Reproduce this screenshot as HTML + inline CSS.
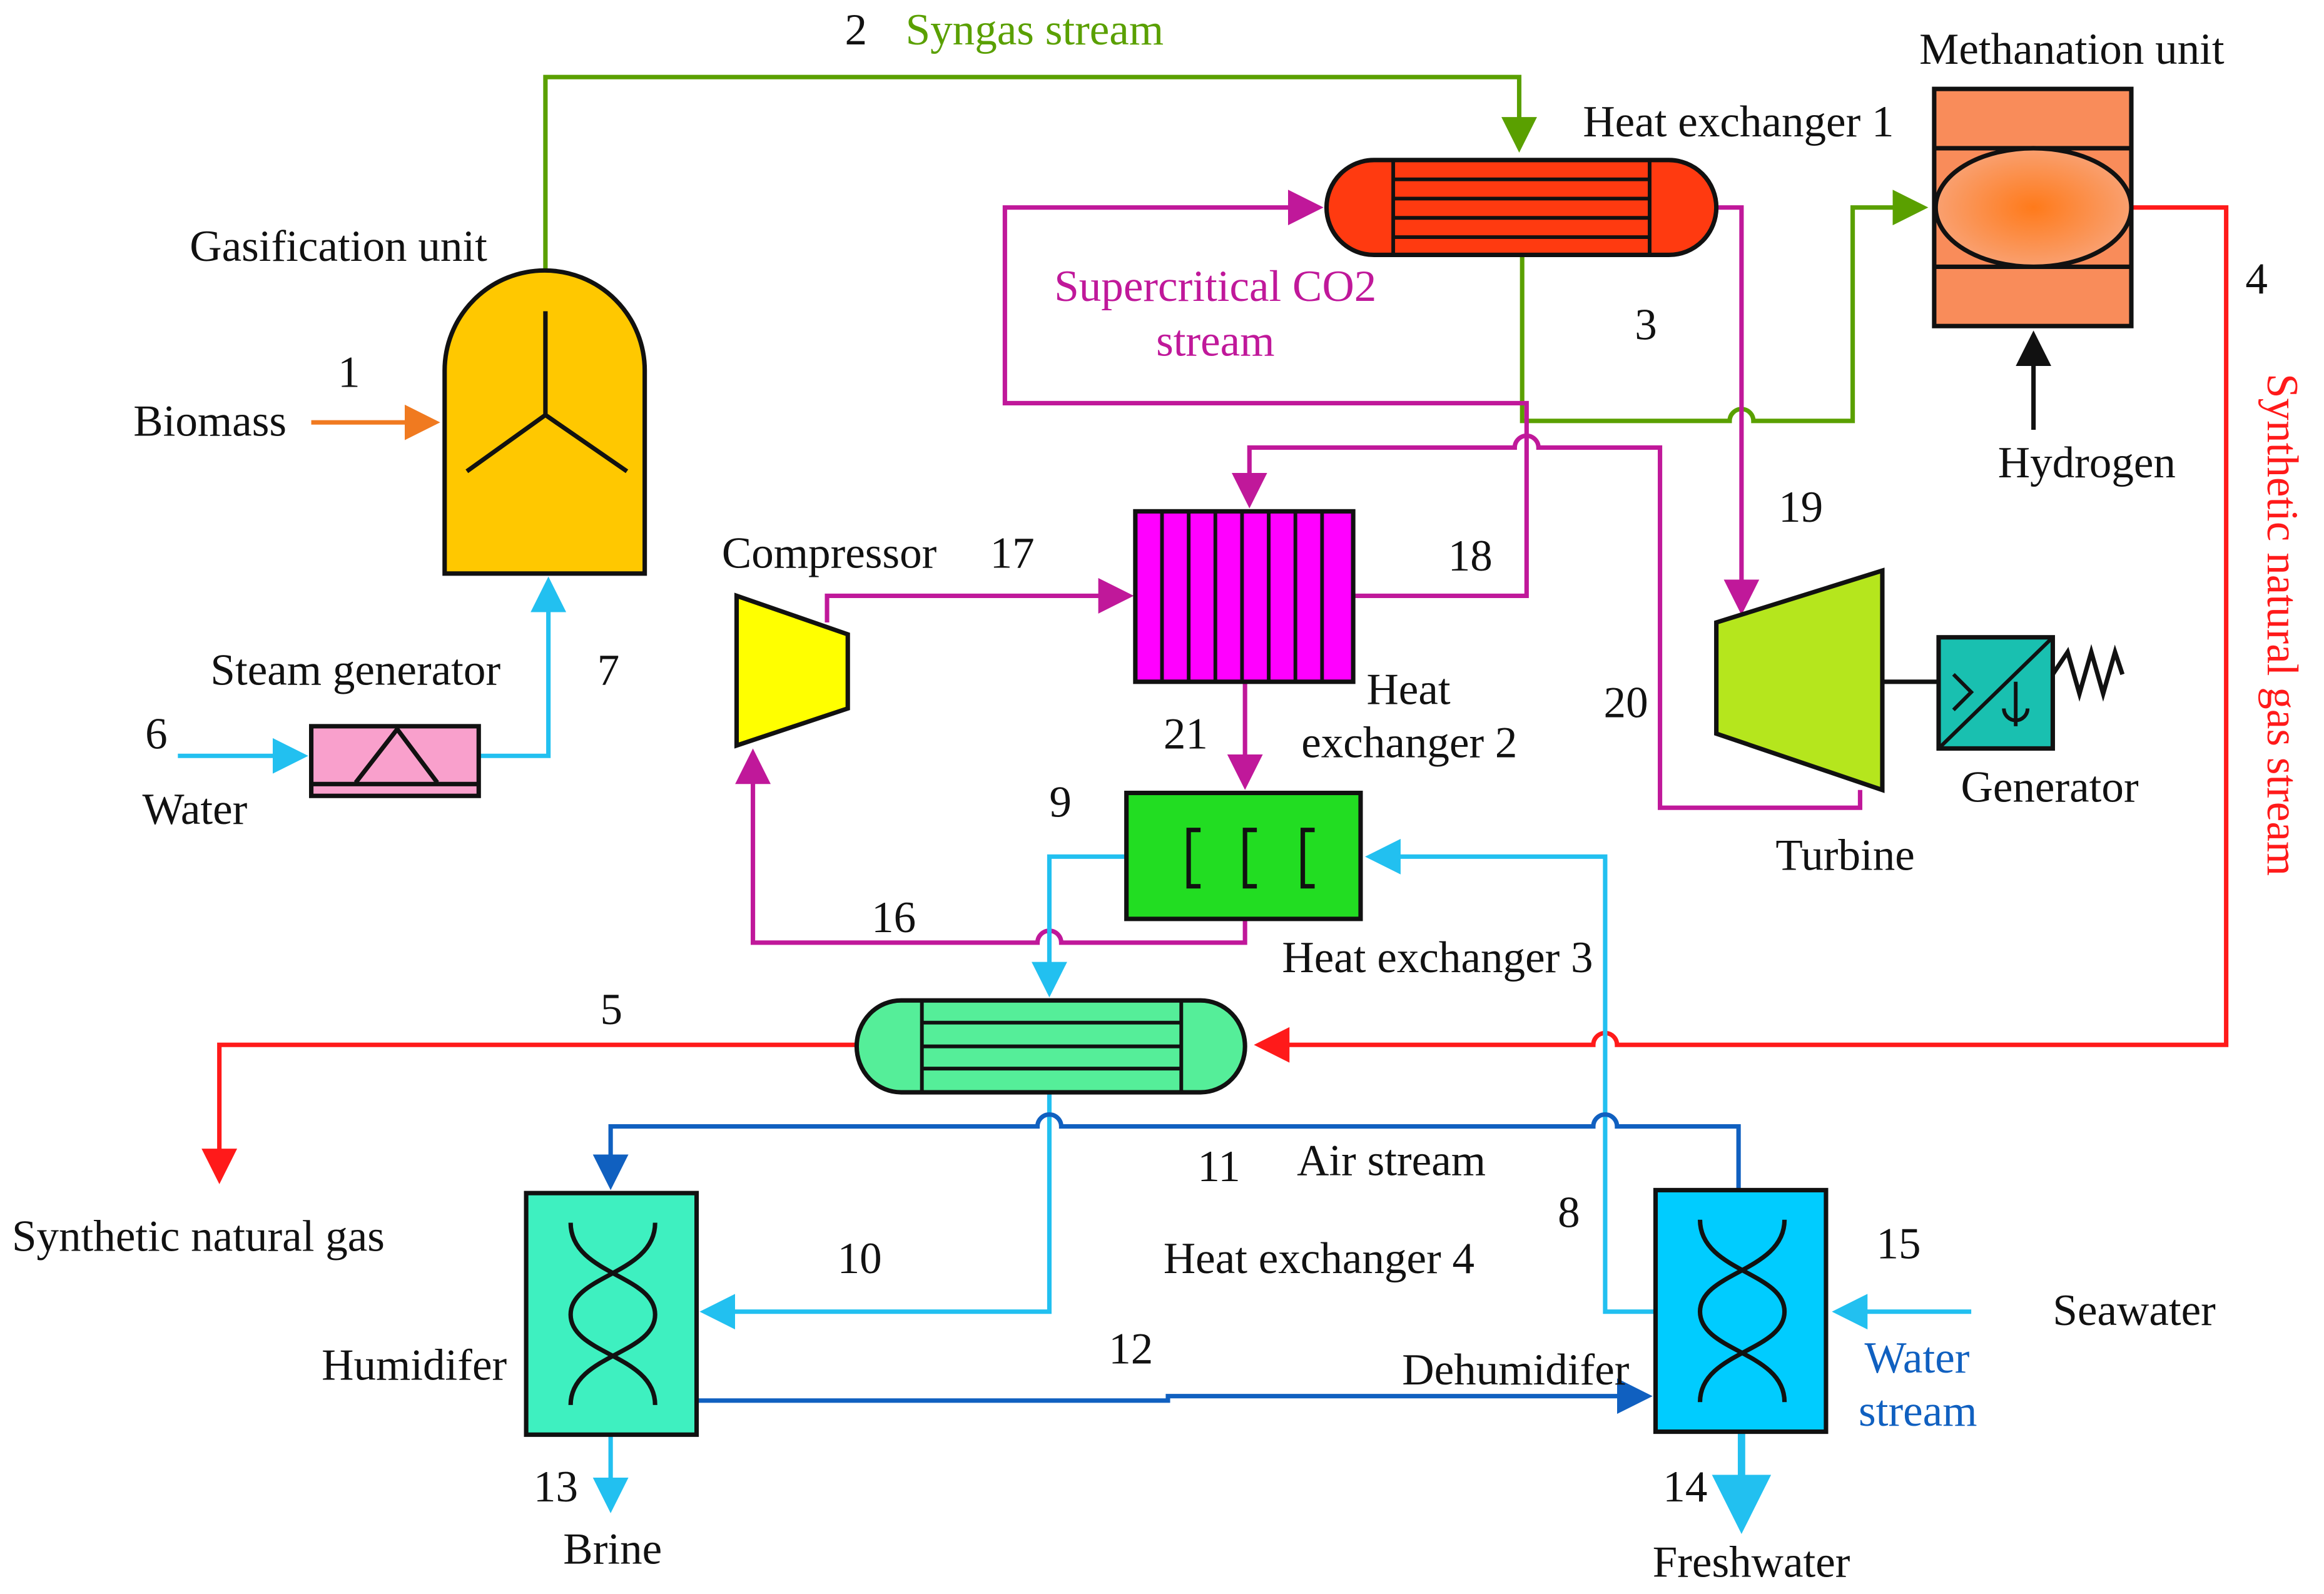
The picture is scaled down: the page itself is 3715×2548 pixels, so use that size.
<!DOCTYPE html>
<html><head><meta charset="utf-8"><style>
html,body{margin:0;padding:0;background:#fff;}
svg{display:block;width:3715px;height:2548px;}
text{font-family:"Liberation Serif",serif;font-size:30px;fill:#111;}
</style></head><body>
<svg viewBox="0 0 1568 1075.5" preserveAspectRatio="none" xmlns="http://www.w3.org/2000/svg">
<defs>
<marker id="ag" markerWidth="8" markerHeight="8" refX="7" refY="4" orient="auto" viewBox="0 0 8 8"><path d="M0,0 L8,4 L0,8 z" fill="#5aa000"/></marker>
<marker id="am" markerWidth="8" markerHeight="8" refX="7" refY="4" orient="auto" viewBox="0 0 8 8"><path d="M0,0 L8,4 L0,8 z" fill="#c0189a"/></marker>
<marker id="ar" markerWidth="8" markerHeight="8" refX="7" refY="4" orient="auto" viewBox="0 0 8 8"><path d="M0,0 L8,4 L0,8 z" fill="#ff1a1a"/></marker>
<marker id="ac" markerWidth="8" markerHeight="8" refX="7" refY="4" orient="auto" viewBox="0 0 8 8"><path d="M0,0 L8,4 L0,8 z" fill="#22c0f0"/></marker>
<marker id="ab" markerWidth="8" markerHeight="8" refX="7" refY="4" orient="auto" viewBox="0 0 8 8"><path d="M0,0 L8,4 L0,8 z" fill="#1060c0"/></marker>
<marker id="ao" markerWidth="8" markerHeight="8" refX="7" refY="4" orient="auto" viewBox="0 0 8 8"><path d="M0,0 L8,4 L0,8 z" fill="#f07a20"/></marker>
<marker id="ak" markerWidth="8" markerHeight="8" refX="7" refY="4" orient="auto" viewBox="0 0 8 8"><path d="M0,0 L8,4 L0,8 z" fill="#111"/></marker>
<radialGradient id="rg"><stop offset="0" stop-color="#ff7a1a"/><stop offset="1" stop-color="#f9a070"/></radialGradient>
</defs>

<g fill="none" stroke="#5aa000" stroke-width="3">
<path d="M368,185 V52 H1025 V100" marker-end="url(#ag)"/>
<path d="M1027,172 V284 H1167 a8,8 0 0 1 16,0 H1250 V140 H1298" marker-end="url(#ag)"/>
</g>
<g fill="none" stroke="#c0189a" stroke-width="3">
<path d="M913,402 H1030 V272 H678 V140 H890" marker-end="url(#am)"/>
<path d="M1158,140 H1175 V412" marker-end="url(#am)"/>
<path d="M1255,533 V545 H1120 V302 H1038 a8,8 0 0 0 -16,0 H843 V340" marker-end="url(#am)"/>
<path d="M558,420 V402 H762" marker-end="url(#am)"/>
<path d="M840,460 V530" marker-end="url(#am)"/>
<path d="M840,620 V636 H716 a8,8 0 0 0 -16,0 H508 V508" marker-end="url(#am)"/>
</g>
<g fill="none" stroke="#ff1a1a" stroke-width="3">
<path d="M1438,140 H1502 V705 H1091 a8,8 0 0 0 -16,0 H849" marker-end="url(#ar)"/>
<path d="M578,705 H148 V796" marker-end="url(#ar)"/>
</g>
<g fill="none" stroke="#22c0f0" stroke-width="3">
<path d="M120,510 H205" marker-end="url(#ac)"/>
<path d="M323,510 H370 V392" marker-end="url(#ac)"/>
<path d="M760,578 H708 V670" marker-end="url(#ac)"/>
<path d="M1117,885 H1083 V578 H924" marker-end="url(#ac)"/>
<path d="M708,737 V885 H475" marker-end="url(#ac)"/>
<path d="M412,968 V1018" marker-end="url(#ac)"/>
<path d="M1330,885 H1239" marker-end="url(#ac)"/>
<path d="M1175,966 V1030" stroke-width="5" marker-end="url(#ac)"/>
</g>
<g fill="none" stroke="#1060c0" stroke-width="3">
<path d="M1173,803 V760 H1091 a8,8 0 0 0 -16,0 H716 a8,8 0 0 0 -16,0 H412 V800" marker-end="url(#ab)"/>
<path d="M470,945 H788 V942 H1112" marker-end="url(#ab)"/>
</g>
<path d="M210,285 H294" stroke="#f07a20" stroke-width="3" marker-end="url(#ao)"/>
<path d="M1372,290 V226" stroke="#111" stroke-width="3" marker-end="url(#ak)"/>

<path d="M300,387 V250 A67,67 0 0 1 435,250 V387 Z" fill="#ffc800" stroke="#111" stroke-width="3"/>
<path d="M368,210 V280 L315,318 M368,280 L423,318" stroke="#111" stroke-width="3" fill="none"/>
<rect x="210" y="490" width="113" height="47" fill="#f9a0cc" stroke="#111" stroke-width="3"/>
<path d="M210,529 H323 M240,528 L268,492 L295,528" stroke="#111" stroke-width="3" fill="none"/>
<path d="M927,108 H1126 A32,32 0 0 1 1126,172 H927 A32,32 0 0 1 927,108 Z" fill="#ff3a10" stroke="#111" stroke-width="3"/>
<path d="M940,108 V172 M1113,108 V172 M940,121 H1113 M940,134 H1113 M940,147 H1113 M940,160 H1113" stroke="#111" stroke-width="2.5"/>
<rect x="1305" y="60" width="133" height="160" fill="#f98c5a" stroke="#111" stroke-width="3"/>
<path d="M1305,100 H1438 M1305,180 H1438" stroke="#111" stroke-width="3"/>
<ellipse cx="1372" cy="140" rx="66" ry="40" fill="url(#rg)" stroke="#111" stroke-width="3"/>
<rect x="766" y="345" width="147" height="115" fill="#ff00ff" stroke="#111" stroke-width="3"/>
<path d="M784,345V460M802,345V460M820,345V460M838,345V460M856,345V460M874,345V460M892,345V460" stroke="#111" stroke-width="2.5"/>
<polygon points="497,402 572,428 572,478 497,503" fill="#ffff00" stroke="#111" stroke-width="3"/>
<polygon points="1158,420 1270,385 1270,533 1158,495" fill="#b5e61d" stroke="#111" stroke-width="3"/>
<path d="M1270,460 H1308" stroke="#111" stroke-width="3"/>
<rect x="1308" y="430" width="77" height="75" fill="#19c0b0" stroke="#111" stroke-width="3"/>
<path d="M1308,505 L1385,430 M1318,455 L1330,467 L1318,479 M1360,460 V490 M1352,478 a8,8 0 1 0 16,0" stroke="#111" stroke-width="2.5" fill="none"/>
<path d="M1385,455 L1395,440 L1403,468 L1411,440 L1419,468 L1427,440 L1432,455" stroke="#111" stroke-width="3" fill="none"/>
<rect x="760" y="535" width="158" height="85" fill="#22dd22" stroke="#111" stroke-width="3"/>
<path d="M810,560 H802 V598 H810 M848,560 H840 V598 H848 M887,560 H879 V598 H887" stroke="#111" stroke-width="3" fill="none"/>
<path d="M608,675 H810 A30,31 0 0 1 810,737 H608 A30,31 0 0 1 608,675 Z" fill="#55ee99" stroke="#111" stroke-width="3"/>
<path d="M622,675V737M797,675V737M622,690H797M622,706H797M622,721H797" stroke="#111" stroke-width="2.5"/>
<rect x="355" y="805" width="115" height="163" fill="#3ef0c0" stroke="#111" stroke-width="3"/>
<path d="M385,825 C385,860 442,860 442,887 C442,914 385,914 385,948 M442,825 C442,860 385,860 385,887 C385,914 442,914 442,948" stroke="#111" stroke-width="3" fill="none"/>
<rect x="1117" y="803" width="115" height="163" fill="#00ccff" stroke="#111" stroke-width="3"/>
<path d="M1147,823 C1147,858 1204,858 1204,885 C1204,912 1147,912 1147,946 M1204,823 C1204,858 1147,858 1147,885 C1147,912 1204,912 1204,946" stroke="#111" stroke-width="3" fill="none"/>

<text x="570" y="30">2</text>
<text x="611" y="30" style="fill:#5aa000">Syngas stream</text>
<text x="1068" y="92">Heat exchanger 1</text>
<text x="1295" y="43">Methanation unit</text>
<text x="128" y="176">Gasification unit</text>
<text x="228" y="261">1</text>
<text x="90" y="294">Biomass</text>
<text x="820" y="203" text-anchor="middle" style="fill:#c0189a">Supercritical CO2</text>
<text x="820" y="240" text-anchor="middle" style="fill:#c0189a">stream</text>
<text x="1103" y="229">3</text>
<text x="1515" y="198">4</text>
<text x="1348" y="322">Hydrogen</text>
<text transform="translate(1530,252) rotate(90)" style="fill:#ff1a1a">Synthetic natural gas stream</text>
<text x="487" y="383">Compressor</text>
<text x="668" y="383">17</text>
<text x="977" y="385">18</text>
<text x="1200" y="352">19</text>
<text x="142" y="462">Steam generator</text>
<text x="403" y="462">7</text>
<text x="922" y="475">Heat</text>
<text x="878" y="511">exchanger 2</text>
<text x="1082" y="484">20</text>
<text x="98" y="505">6</text>
<text x="96" y="556">Water</text>
<text x="785" y="505">21</text>
<text x="708" y="551">9</text>
<text x="1323" y="541">Generator</text>
<text x="1198" y="587">Turbine</text>
<text x="588" y="629">16</text>
<text x="865" y="656">Heat exchanger 3</text>
<text x="405" y="691">5</text>
<text x="808" y="797">11</text>
<text x="875" y="793">Air stream</text>
<text x="8" y="844">Synthetic natural gas</text>
<text x="1051" y="828">8</text>
<text x="1266" y="849">15</text>
<text x="565" y="859">10</text>
<text x="785" y="859">Heat exchanger 4</text>
<text x="1385" y="894">Seawater</text>
<text x="748" y="920">12</text>
<text x="217" y="931">Humidifer</text>
<text x="946" y="934">Dehumidifer</text>
<text x="1258" y="926" style="fill:#1060c0">Water</text>
<text x="1254" y="962" style="fill:#1060c0">stream</text>
<text x="360" y="1013">13</text>
<text x="1122" y="1013">14</text>
<text x="380" y="1055">Brine</text>
<text x="1115" y="1064">Freshwater</text>
</svg>
</body></html>
